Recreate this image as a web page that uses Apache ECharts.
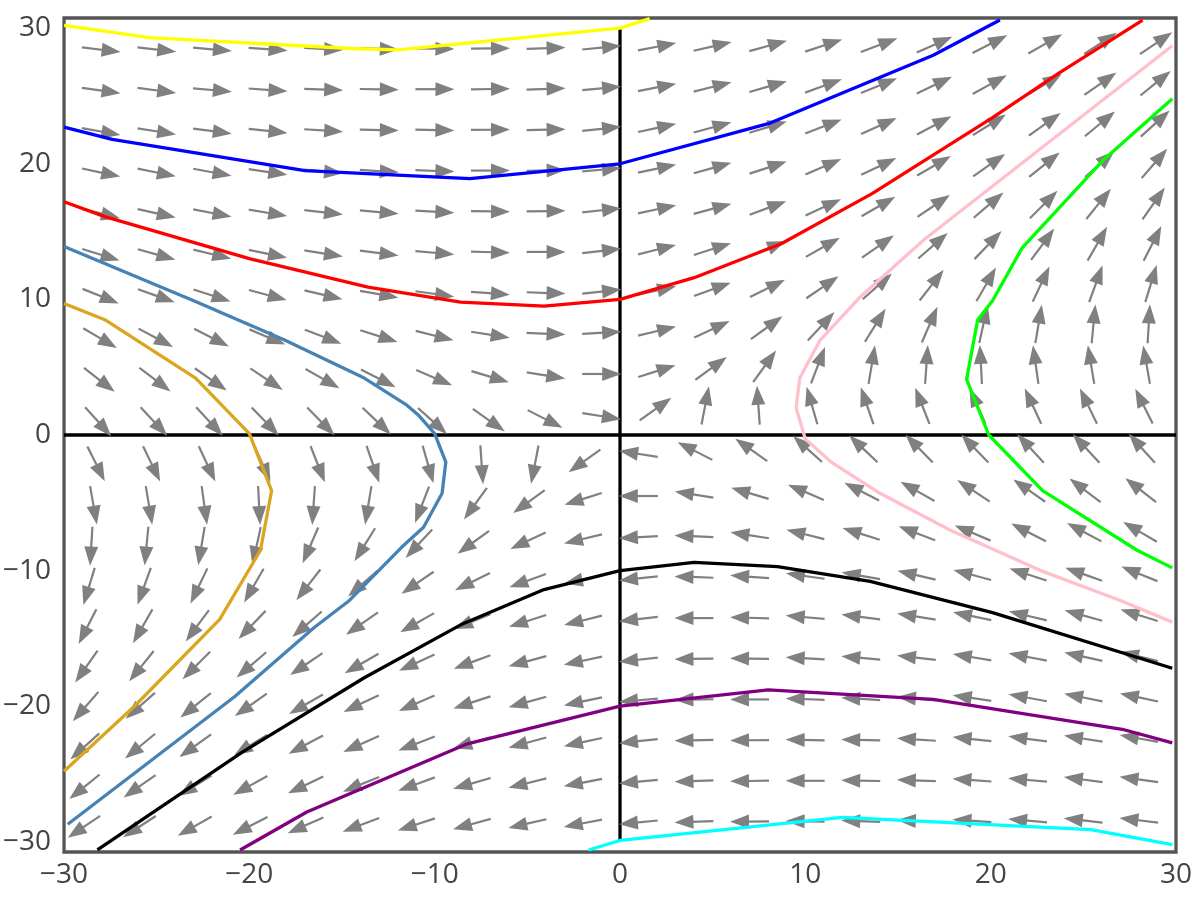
<!DOCTYPE html>
<html><head><meta charset="utf-8">
<script src="https://cdn.jsdelivr.net/npm/echarts@6/dist/echarts.min.js"></script>
<style>html,body{margin:0;padding:0;background:#fff}#c{width:1200px;height:900px}</style>
</head><body><div id="c"></div>
<script>
// Tick labels
const xTicks = [-30, -20, -10, 0, 10, 20, 30];
const yTicks = [-30, -20, -10, 0, 10, 20, 30];

// Arrow grid (arrow pivot positions)
const gridX = [-28.5,-25.5,-22.5,-19.5,-16.5,-13.5,-10.5,-7.5,-4.5,-1.5,1.5,4.5,7.5,10.5,13.5,16.5,19.5,22.5,25.5,28.5];
const gridY = [28.5,25.5,22.5,19.5,16.5,13.5,10.5,7.5,4.5,1.5,-1.5,-4.5,-7.5,-10.5,-13.5,-16.5,-19.5,-22.5,-25.5,-28.5];

// Arrow directions (degrees, counter-clockwise from +x), one row per gridY value
const angRow00 = [-7,-6.5,-5,-4,-3,-2,-1,0.5,2,5.5,11,13,15.5,18,20.5,24,27,29.5,33,34];
const angRow01 = [-8,-7.5,-5,-4,-2,-1,0,1,2,5.5,11,14,16,20,22,25.5,29,31.5,35,39];
const angRow02 = [-10,-9,-7.5,-6,-3.5,-1,-1,0.5,1,6,12,15,17,21,24,28,32,35.5,39.5,42];
const angRow03 = [-12,-11.5,-10.5,-8.5,-5.5,-3.5,-2,0,1,5,12,15.5,18,23.5,25.5,30,35,38.5,41.5,49];
const angRow04 = [-14,-12.5,-11,-9.5,-6.5,-5,-3,-1,1,6,12,15,20,24.5,30,34,40.5,45,51,55];
const angRow05 = [-17,-15.5,-13.5,-11.5,-9,-7,-5,-1.5,0,6.5,14,17.5,22,29.5,35,41,46,53.5,60,63];
const angRow06 = [-22,-19.5,-18,-15,-13,-10,-8,-4,-2,6,12.5,20,26.5,34.5,41.5,52,60,64.5,70,73];
const angRow07 = [-30.5,-28,-27,-23,-21,-17.5,-14,-9,-2.5,3,13.5,25,36,47,58,66.5,77.5,80.5,84.5,86.5];
const angRow08 = [-38,-37,-35,-33.5,-29.5,-27,-23,-16.5,-9,0,17.5,36,54,69,80.5,86,93,98,99.5,100];
const angRow09 = [-48,-47,-47,-46,-45.5,-43.5,-42,-35,-27,-9,35.5,79,94,106,109,111.5,114,115,116,116.5];
const angRow10 = [-63.5,-64,-65,-66,-68.5,-71,-74,-86,-101,-144.5,171,153,145,138,136.5,134.5,134,133,133,132];
const angRow11 = [-80,-80.5,-82,-87,-94,-99.5,-111,-126,-144,-162.5,180,171,163.5,157,153,150.5,146.5,145,143,142];
const angRow12 = [-93.5,-95.5,-99.5,-102.5,-113.5,-122,-133,-144,-155,-166.5,-177,177.5,171,166,162.5,159,157,153,152,149.5];
const angRow13 = [-107,-110,-115.5,-120,-128,-138.5,-145.5,-153.5,-160,-167.5,-174,178,176,172,170,167,165,162,160.5,158];
const angRow14 = [-117,-120,-126.5,-134,-139,-145,-150.5,-158,-162.5,-166,-173.5,180,178.5,175,173,171,168.5,166.5,164.5,163];
const angRow15 = [-125,-129,-135,-139.5,-146,-150,-155.5,-160,-165,-168,-174,-179,179,177,175,173.5,170.5,169,167.5,166];
const angRow16 = [-131,-138.5,-141.5,-145,-150,-154.5,-156.5,-162,-164.5,-168,-175,-179,180,178,176.5,174.5,171.5,169.5,168.5,168];
const angRow17 = [-138,-140.5,-144.5,-148,-152,-156,-159,-163,-165,-168,-174,-179,-179.5,179,179,176.5,174,172.5,171,170];
const angRow18 = [-141,-145,-148.5,-151,-154.5,-158,-160,-164,-166,-169,-174.5,-178,-179,180,179,178,176,175,172.5,172];
const angRow19 = [-146,-147,-150.5,-153,-156,-159.5,-162,-164.5,-167,-169,-174.5,-178,-179.5,179,178,177,176,175,173.5,173];
const angleRows = [angRow00,angRow01,angRow02,angRow03,angRow04,angRow05,angRow06,angRow07,angRow08,angRow09,
                   angRow10,angRow11,angRow12,angRow13,angRow14,angRow15,angRow16,angRow17,angRow18,angRow19];

// Axis cross lines
const hLine = [[-30, 0], [30, 0]];
const vLine = [[0, -30], [0, 30]];

// Trajectories
const yellowPts = [[-30,30.2],[-25.4,29.3],[-14.5,28.5],[-12,28.4],[0,30],[1.6,30.7]];
const bluePts = [[-30,22.7],[-27.4,21.8],[-17,19.5],[-8.1,18.9],[0,20],[8.1,23],[16.9,28],[20.5,30.6]];
const redPts = [[-30,17.2],[-27.8,16.1],[-20,13],[-13.6,10.9],[-8.6,9.8],[-4.1,9.5],[0,10],[4,11.6],[8.7,14.1],[13.6,17.8],[20.1,23.4],[23.7,26.7],[28.2,30.6]];
const steelPts = [[-30,13.9],[-23,9.9],[-18.1,7],[-13.8,4.2],[-11.5,2.2],[-10.9,1.5],[-10,0.1],[-9.4,-2],[-9.6,-4.3],[-10.6,-6.8],[-11.8,-8.3],[-14.6,-12.2],[-16.5,-14.2],[-20.8,-19.3],[-29.8,-28.7]];
const goldPts = [[-30,9.7],[-27.8,8.5],[-22.9,4.2],[-20,0.1],[-18.8,-4.1],[-19.4,-8.5],[-21.6,-13.6],[-26.2,-20],[-30,-24.8]];
const pinkPts = [[29.8,-13.8],[27,-12.2],[22.7,-10],[17.8,-7],[13.9,-4.2],[11.4,-2],[10,-0.3],[9.5,2],[9.7,4.2],[10.8,7],[12.9,10.1],[16.4,14.4],[29.8,28.7]];
const greenPts = [[29.8,24.8],[26.1,20.3],[21.7,13.8],[20.1,9.9],[19.3,8.5],[18.7,4.1],[19.9,0],[22.8,-4.1],[27.9,-8.5],[29.8,-9.8]];
const blackPts = [[-28.2,-30.6],[-20.4,-23.4],[-13.8,-17.9],[-8.6,-14],[-4.1,-11.4],[0,-10],[4,-9.4],[8.5,-9.7],[13.5,-10.8],[20.1,-13.1],[29.8,-17.2]];
const purplePts = [[-20.5,-30.6],[-16.9,-27.8],[-8.3,-22.8],[0,-20],[8,-18.8],[16.9,-19.5],[27.1,-21.7],[29.8,-22.7]];
const cyanPts = [[-1.7,-30.6],[0,-29.9],[12,-28.2],[25.4,-29.1],[29.8,-30.2]];

const trajectories = [
  { pts: yellowPts, color: '#ffff00' },
  { pts: bluePts, color: '#0000ff' },
  { pts: redPts, color: '#ff0000' },
  { pts: steelPts, color: '#4682b4' },
  { pts: goldPts, color: '#daa520' },
  { pts: pinkPts, color: '#ffc0cb' },
  { pts: greenPts, color: '#00ff00' },
  { pts: blackPts, color: '#000000' },
  { pts: purplePts, color: '#800080' },
  { pts: cyanPts, color: '#00ffff' }
];

const arrowData = [];
angleRows.forEach((row, j) => row.forEach((a, i) => arrowData.push([gridX[i], gridY[j], a])));

const chart = echarts.init(document.getElementById('c'), null, { renderer: 'canvas' });
const fmt = v => String(v).replace('-', '\u2212');
const labelStyle = { fontSize: 28, color: '#444', fontFamily: '"Open Sans", sans-serif', formatter: fmt };
const option = {
  animation: false,
  grid: { left: 63, right: 24, top: 18, bottom: 48, show: true, borderColor: '#555', borderWidth: 3.3, backgroundColor: '#fff' },
  xAxis: {
    type: 'value', min: -30, max: 30, interval: 10,
    axisLine: { show: false }, axisTick: { show: false }, splitLine: { show: false },
    axisLabel: Object.assign({ margin: 9, customValues: xTicks }, labelStyle)
  },
  yAxis: {
    type: 'value', min: -30.75, max: 30.75,
    axisLine: { show: false }, axisTick: { show: false }, splitLine: { show: false },
    axisLabel: Object.assign({ margin: 13, customValues: yTicks }, labelStyle)
  },
  series: [
    { type: 'line', data: hLine, showSymbol: false, z: 1, lineStyle: { color: '#000', width: 3.3 }, silent: true },
    { type: 'line', data: vLine, showSymbol: false, z: 1, lineStyle: { color: '#000', width: 3.3 }, silent: true },
    {
      type: 'custom', z: 2, data: arrowData, silent: true,
      renderItem: function (params, api) {
        const p = api.coord([api.value(0), api.value(1)]);
        const ang = api.value(2) * Math.PI / 180;
        return {
          type: 'group', x: p[0], y: p[1], rotation: ang,
          children: [
            { type: 'line', shape: { x1: -10, y1: 0, x2: 12, y2: 0 }, style: { stroke: '#808080', lineWidth: 2.2 } },
            { type: 'polygon', shape: { points: [[29, 0], [10, -7], [10, 7]] }, style: { fill: '#808080' } }
          ]
        };
      }
    }
  ].concat(trajectories.map(t => ({
    type: 'line', data: t.pts, showSymbol: false, z: 3, silent: true,
    lineStyle: { color: t.color, width: 3.3 }
  })))
};
chart.setOption(option);
</script>
</body></html>
